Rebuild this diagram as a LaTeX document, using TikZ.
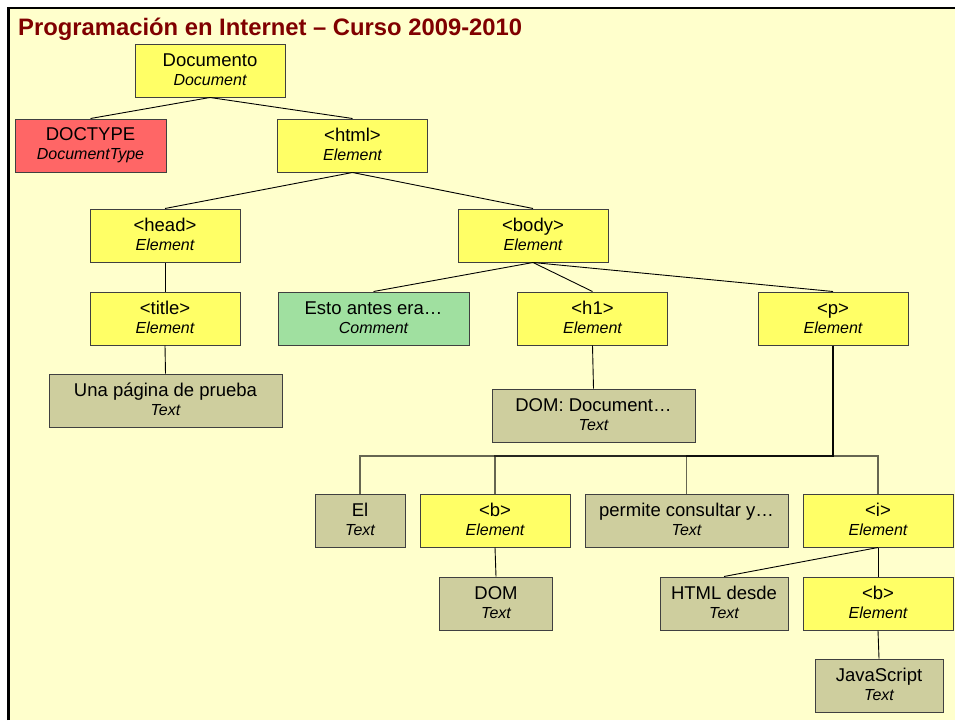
\documentclass[tikz,border=0pt]{standalone}
\usepackage{fontspec}
\setmainfont{Liberation Sans}
\definecolor{cream}{HTML}{FFFFCC}
\definecolor{nodeyellow}{HTML}{FFFF66}
\definecolor{nodered}{HTML}{FF6666}
\definecolor{nodegreen}{HTML}{A0E0A0}
\definecolor{nodetan}{HTML}{CECE9E}
\definecolor{boxline}{HTML}{404040}
\definecolor{titlered}{HTML}{800000}
\newcommand{\twol}[2]{\rule[-3pt]{0pt}{15.4pt}#1\\\fontsize{16}{19}\selectfont\itshape\rule[-2pt]{0pt}{12pt}#2}
\tikzset{
  box/.style={draw=boxline, line width=1pt, minimum height=53pt, inner sep=1pt,
    align=center, font=\fontsize{18.5}{19}\selectfont},
  ybox/.style={box, fill=nodeyellow, minimum width=150pt},
  rbox/.style={box, fill=nodered},
  gbox/.style={box, fill=nodegreen},
  tbox/.style={box, fill=nodetan},
  conn/.style={draw=black, line width=0.9pt},
  busline/.style={draw=black, line width=1.2pt, draw opacity=0.6},
}
\begin{document}
\begin{tikzpicture}[x=1pt,y=-1pt]
\useasboundingbox (0,0) rectangle (955,720);
\fill[white] (0,0) rectangle (955,720);
\fill[cream] (8.5,8) rectangle (955,720);
\draw[black, line width=2.6pt] (8.5,720) -- (8.5,8) -- (955,8);

\node[anchor=base west, font=\fontsize{23.8}{28}\selectfont\bfseries, text=titlered, inner sep=0pt] (ttl) at (18,35) {Programación en Internet – Curso 2009-2010};

\node[ybox] (doc) at (210,70.5) {\twol{Documento}{Document}};
\node[rbox, minimum width=151pt] (doctype) at (90.5,145.5) {\twol{DOCTYPE}{DocumentType}};
\node[ybox] (html) at (352.5,145.5) {\twol{<html>}{Element}};
\node[ybox] (head) at (165,235.5) {\twol{<head>}{Element}};
\node[ybox] (body) at (533,235.5) {\twol{<body>}{Element}};
\node[ybox] (title) at (165,318.5) {\twol{<title>}{Element}};
\node[tbox, minimum width=233pt] (una) at (165.5,400.5) {\twol{Una página de prueba}{Text}};
\node[gbox, minimum width=191pt] (esto) at (373.5,318.5) {\twol{Esto antes era…}{Comment}};
\node[ybox] (h1) at (592.5,318.5) {\twol{<h1>}{Element}};
\node[ybox] (p) at (833,318.5) {\twol{<p>}{Element}};
\node[tbox, minimum width=203pt] (domdoc) at (593.5,415.5) {\twol{DOM: Document…}{Text}};
\node[tbox, minimum width=90pt] (el) at (360,520.5) {\twol{El}{Text}};
\node[ybox] (b) at (495,520.5) {\twol{<b>}{Element}};
\node[tbox, minimum width=203pt] (permite) at (686.5,520.5) {\twol{permite consultar y…}{Text}};
\node[ybox] (i) at (878,520.5) {\twol{<i>}{Element}};
\node[tbox, minimum width=113pt] (dom) at (496,603.5) {\twol{DOM}{Text}};
\node[tbox, minimum width=128pt] (htmld) at (724,603.5) {\twol{HTML desde}{Text}};
\node[ybox] (b2) at (878,603.5) {\twol{<b>}{Element}};
\node[tbox, minimum width=128pt] (js) at (879,685.5) {\twol{JavaScript}{Text}};

\coordinate (bus) at (0,456);

\draw[conn] (doc.south) -- (doctype.north);
\draw[conn] (doc.south) -- (html.north);
\draw[conn] (html.south) -- (head.north);
\draw[conn] (html.south) -- (body.north);
\draw[conn] (head.south) -- (title.north);
\draw[conn] (title.south) -- (una.north);
\draw[conn] (body.south) -- (esto.north);
\draw[conn] (body.south) -- (h1.north);
\draw[conn] (body.south) -- (p.north);
\draw[conn] (h1.south) -- (domdoc.north);
\draw[busline] (p.south) |- (bus -| el.north) -- (el.north);
\draw[busline] (p.south) |- (bus -| b.north) -- (b.north);
\draw[busline] (p.south) |- (bus -| permite.north) -- (permite.north);
\draw[busline] (p.south) |- (bus -| i.north) -- (i.north);
\draw[conn] (b.south) -- (dom.north);
\draw[conn] (i.south) -- (htmld.north);
\draw[conn] (i.south) -- (b2.north);
\draw[conn] (b2.south) -- (js.north);
\end{tikzpicture}
\end{document}
